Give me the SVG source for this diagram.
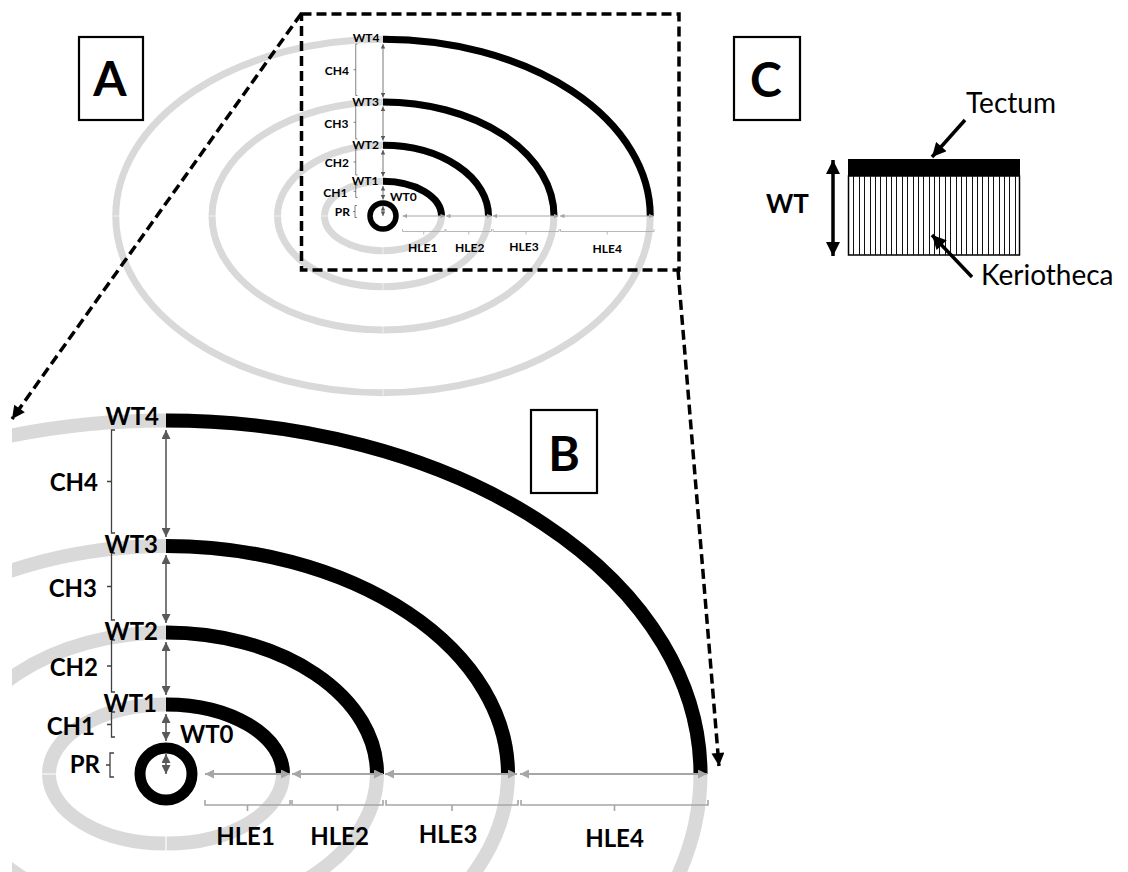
<svg xmlns="http://www.w3.org/2000/svg" width="1128" height="872" viewBox="0 0 1128 872">
  <style>
    .bg { fill: #ffffff; }
    .wall-grey { fill: none; stroke: #d9d9d9; stroke-width: 14; }
    .seam { fill: none; stroke: #ffffff; stroke-width: 1.2; }
    .wall { fill: none; stroke: #000000; stroke-width: 14; stroke-linecap: butt; }
    .pore { fill: none; stroke: #000000; stroke-width: 11; }
    .vd { fill: none; stroke: #595959; stroke-width: 1.6; }
    .br { fill: none; stroke: #404040; stroke-width: 1.3; }
    .hl { fill: none; stroke: #a6a6a6; stroke-width: 2; }
    .hb { fill: none; stroke: #a6a6a6; stroke-width: 1.6; }
    .lbl { font-family: Lato, "Liberation Sans", sans-serif; font-weight: bold; font-size: 24px; fill: #000000; }
    .panel-box { fill: #ffffff; stroke: #000000; stroke-width: 2.2; }
    .panel-letter { font-family: Lato, "Liberation Sans", sans-serif; font-weight: bold; font-size: 48px; fill: #000000; text-anchor: middle; }
    .dash { fill: none; stroke: #000000; stroke-width: 3.5; stroke-dasharray: 10 5; }
    .solid-arrow { fill: none; stroke: #000000; stroke-width: 3.5; }
    .c-text { font-family: Lato, "Liberation Sans", sans-serif; font-size: 28px; fill: #000000; }
    .kerio-lines { fill: none; stroke: #111111; stroke-width: 1; shape-rendering: crispEdges; }
  </style>
  <defs>
    <marker id="head-dark" viewBox="0 0 10 10" refX="10" refY="5" markerWidth="10" markerHeight="9" markerUnits="userSpaceOnUse" orient="auto-start-reverse">
      <path d="M0,0 L10,5 L0,10 z" fill="#595959"/>
    </marker>
    <marker id="head-light" viewBox="0 0 10 10" refX="10" refY="5" markerWidth="12" markerHeight="9" markerUnits="userSpaceOnUse" orient="auto-start-reverse">
      <path d="M0,0 L10,5 L0,10 z" fill="#a6a6a6"/>
    </marker>
    <marker id="head-black" viewBox="0 0 10 10" refX="10" refY="5" markerWidth="15" markerHeight="14" markerUnits="userSpaceOnUse" orient="auto-start-reverse">
      <path d="M0,0 L10,5 L0,10 z" fill="#000000"/>
    </marker>
    <marker id="head-dash" viewBox="0 0 10 10" refX="10" refY="5" markerWidth="14" markerHeight="13" markerUnits="userSpaceOnUse" orient="auto">
      <path d="M0,0 L10,5 L0,10 z" fill="#000000"/>
    </marker>
    <clipPath id="clip-b">
      <rect x="12" y="0" width="1116" height="872"/>
    </clipPath>
  </defs>

  <rect class="bg" x="0" y="0" width="1128" height="872"/>

  <!-- Panel A: reduced overview of the wall layers around the pore -->
  <g id="panel-a">
    <g transform="translate(383,216) scale(0.5)">
      <ellipse class="wall-grey" cx="0" cy="0" rx="117" ry="69.5"/>
      <ellipse class="wall-grey" cx="0" cy="0" rx="211" ry="141.5"/>
      <ellipse class="wall-grey" cx="0" cy="0" rx="342" ry="228"/>
      <ellipse class="wall-grey" cx="0" cy="0" rx="534.5" ry="353.5"/>
      <path class="seam" d="M0,62 V77 M-124,0 H-110 M0,134 V149 M-218,0 H-204 M0,220 V235 M-349,0 H-335 M0,346 V361 M-541.5,0 H-527.5"/>
      <path class="wall" d="M0,-69.5 A117,69.5 0 0 1 117,0"/>
      <path class="wall" d="M0,-141.5 A211,141.5 0 0 1 211,0"/>
      <path class="wall" d="M0,-228 A342,228 0 0 1 342,0"/>
      <path class="wall" d="M0,-353.5 A534.5,353.5 0 0 1 534.5,0"/>
      <circle class="pore" cx="0" cy="0" r="26"/>
      <line class="vd" x1="0" y1="-344" x2="0" y2="-237" marker-start="url(#head-dark)" marker-end="url(#head-dark)"/>
      <line class="vd" x1="0" y1="-219" x2="0" y2="-151" marker-start="url(#head-dark)" marker-end="url(#head-dark)"/>
      <line class="vd" x1="0" y1="-132" x2="0" y2="-79" marker-start="url(#head-dark)" marker-end="url(#head-dark)"/>
      <line class="vd" x1="0" y1="-60" x2="0" y2="-33" marker-start="url(#head-dark)" marker-end="url(#head-dark)"/>
      <line class="vd" x1="0" y1="-20" x2="0" y2="0" marker-start="url(#head-dark)" marker-end="url(#head-dark)"/>
      <path class="br" d="M-51,-344 H-54.5 V-241 H-51 M-54.5,-292.5 H-59"/>
      <path class="br" d="M-51,-221 H-54.5 V-154 H-51 M-54.5,-187.5 H-59"/>
      <path class="br" d="M-51,-134 H-54.5 V-82 H-51 M-54.5,-108 H-59"/>
      <path class="br" d="M-51,-62 H-54.5 V-37 H-51 M-54.5,-49.5 H-59"/>
      <path class="br" d="M-52,-21 H-56 V3 H-52 M-56,-9 H-60"/>
      <line class="hl" x1="39" y1="0" x2="124" y2="0" marker-start="url(#head-light)" marker-end="url(#head-light)"/>
      <line class="hl" x1="126" y1="0" x2="217" y2="0" marker-start="url(#head-light)" marker-end="url(#head-light)"/>
      <line class="hl" x1="219" y1="0" x2="351" y2="0" marker-start="url(#head-light)" marker-end="url(#head-light)"/>
      <line class="hl" x1="354" y1="0" x2="541" y2="0" marker-start="url(#head-light)" marker-end="url(#head-light)"/>
      <path class="hb" d="M39,26 V31 H124 V26 M81.5,31 V37"/>
      <path class="hb" d="M126,26 V31 H217 V26 M171.5,31 V37"/>
      <path class="hb" d="M220,26 V31 H352 V26 M286,31 V37"/>
      <path class="hb" d="M355,26 V31 H542 V26 M448.5,31 V37"/>
      <text class="lbl" x="-7" y="-349" text-anchor="end">WT4</text>
      <text class="lbl" x="-8" y="-221" text-anchor="end">WT3</text>
      <text class="lbl" x="-8" y="-134" text-anchor="end">WT2</text>
      <text class="lbl" x="-9" y="-62" text-anchor="end">WT1</text>
      <text class="lbl" x="14" y="-31">WT0</text>
      <text class="lbl" x="-68" y="-283" text-anchor="end">CH4</text>
      <text class="lbl" x="-69" y="-177" text-anchor="end">CH3</text>
      <text class="lbl" x="-68" y="-98" text-anchor="end">CH2</text>
      <text class="lbl" x="-71" y="-39" text-anchor="end">CH1</text>
      <text class="lbl" x="-66" y="-1" text-anchor="end">PR</text>
      <text class="lbl" x="79.5" y="71" text-anchor="middle">HLE1</text>
      <text class="lbl" x="173.5" y="71" text-anchor="middle">HLE2</text>
      <text class="lbl" x="282" y="69" text-anchor="middle">HLE3</text>
      <text class="lbl" x="448.5" y="73" text-anchor="middle">HLE4</text>
    </g>
    <!-- inset frame around the enlarged quadrant -->
    <rect class="dash" x="301.5" y="14" width="377.5" height="256"/>
    <rect class="panel-box" x="79" y="37" width="64" height="83"/>
    <text class="panel-letter" x="110" y="96">A</text>
  </g>

  <!-- Panel B: enlarged quadrant with measurements -->
  <g id="panel-b">
    <g clip-path="url(#clip-b)">
      <g transform="translate(166,774)">
        <ellipse class="wall-grey" cx="0" cy="0" rx="117" ry="69.5"/>
        <ellipse class="wall-grey" cx="0" cy="0" rx="211" ry="141.5"/>
        <ellipse class="wall-grey" cx="0" cy="0" rx="342" ry="228"/>
        <ellipse class="wall-grey" cx="0" cy="0" rx="534.5" ry="353.5"/>
        <path class="seam" d="M0,62 V77 M-124,0 H-110 M0,134 V149 M-218,0 H-204 M0,220 V235 M-349,0 H-335 M0,346 V361 M-541.5,0 H-527.5"/>
        <path class="wall" d="M0,-69.5 A117,69.5 0 0 1 117,0"/>
        <path class="wall" d="M0,-141.5 A211,141.5 0 0 1 211,0"/>
        <path class="wall" d="M0,-228 A342,228 0 0 1 342,0"/>
        <path class="wall" d="M0,-353.5 A534.5,353.5 0 0 1 534.5,0"/>
        <circle class="pore" cx="0" cy="0" r="26"/>
        <line class="vd" x1="0" y1="-344" x2="0" y2="-237" marker-start="url(#head-dark)" marker-end="url(#head-dark)"/>
        <line class="vd" x1="0" y1="-219" x2="0" y2="-151" marker-start="url(#head-dark)" marker-end="url(#head-dark)"/>
        <line class="vd" x1="0" y1="-132" x2="0" y2="-79" marker-start="url(#head-dark)" marker-end="url(#head-dark)"/>
        <line class="vd" x1="0" y1="-60" x2="0" y2="-33" marker-start="url(#head-dark)" marker-end="url(#head-dark)"/>
        <line class="vd" x1="0" y1="-20" x2="0" y2="0" marker-start="url(#head-dark)" marker-end="url(#head-dark)"/>
        <path class="br" d="M-51,-344 H-54.5 V-241 H-51 M-54.5,-292.5 H-59"/>
        <path class="br" d="M-51,-221 H-54.5 V-154 H-51 M-54.5,-187.5 H-59"/>
        <path class="br" d="M-51,-134 H-54.5 V-82 H-51 M-54.5,-108 H-59"/>
        <path class="br" d="M-51,-62 H-54.5 V-37 H-51 M-54.5,-49.5 H-59"/>
        <path class="br" d="M-52,-21 H-56 V3 H-52 M-56,-9 H-60"/>
        <line class="hl" x1="39" y1="0" x2="124" y2="0" marker-start="url(#head-light)" marker-end="url(#head-light)"/>
        <line class="hl" x1="126" y1="0" x2="217" y2="0" marker-start="url(#head-light)" marker-end="url(#head-light)"/>
        <line class="hl" x1="219" y1="0" x2="351" y2="0" marker-start="url(#head-light)" marker-end="url(#head-light)"/>
        <line class="hl" x1="354" y1="0" x2="541" y2="0" marker-start="url(#head-light)" marker-end="url(#head-light)"/>
        <path class="hb" d="M39,26 V31 H124 V26 M81.5,31 V37"/>
        <path class="hb" d="M126,26 V31 H217 V26 M171.5,31 V37"/>
        <path class="hb" d="M220,26 V31 H352 V26 M286,31 V37"/>
        <path class="hb" d="M355,26 V31 H542 V26 M448.5,31 V37"/>
        <text class="lbl" x="-7" y="-349" text-anchor="end">WT4</text>
        <text class="lbl" x="-8" y="-221" text-anchor="end">WT3</text>
        <text class="lbl" x="-8" y="-134" text-anchor="end">WT2</text>
        <text class="lbl" x="-9" y="-62" text-anchor="end">WT1</text>
        <text class="lbl" x="14" y="-31">WT0</text>
        <text class="lbl" x="-68" y="-283" text-anchor="end">CH4</text>
        <text class="lbl" x="-69" y="-177" text-anchor="end">CH3</text>
        <text class="lbl" x="-68" y="-98" text-anchor="end">CH2</text>
        <text class="lbl" x="-71" y="-39" text-anchor="end">CH1</text>
        <text class="lbl" x="-66" y="-1" text-anchor="end">PR</text>
        <text class="lbl" x="79.5" y="71" text-anchor="middle">HLE1</text>
        <text class="lbl" x="173.5" y="71" text-anchor="middle">HLE2</text>
        <text class="lbl" x="282" y="69" text-anchor="middle">HLE3</text>
        <text class="lbl" x="448.5" y="73" text-anchor="middle">HLE4</text>
      </g>
    </g>
    <rect class="panel-box" x="531" y="410" width="66" height="83"/>
    <text class="panel-letter" x="564" y="471">B</text>
  </g>

  <!-- Panel C: wall structure, tectum over keriotheca -->
  <g id="panel-c">
    <rect class="panel-box" x="734" y="37" width="66" height="83"/>
    <text class="panel-letter" x="766" y="97">C</text>
    <rect x="848" y="159" width="172" height="17" fill="#000000"/>
    <rect x="848.5" y="176" width="171" height="79" fill="#ffffff" stroke="#000000" stroke-width="1.5"/>
    <!-- keriotheca columns -->
    <path class="kerio-lines" d="M853.5,176V255 M859.5,176V255 M864.5,176V255 M870.5,176V255 M875.5,176V255 M880.5,176V255 M886.5,176V255 M891.5,176V255 M896.5,176V255 M902.5,176V255 M907.5,176V255 M913.5,176V255 M918.5,176V255 M923.5,176V255 M929.5,176V255 M934.5,176V255 M939.5,176V255 M945.5,176V255 M950.5,176V255 M956.5,176V255 M961.5,176V255 M966.5,176V255 M972.5,176V255 M977.5,176V255 M982.5,176V255 M988.5,176V255 M993.5,176V255 M999.5,176V255 M1004.5,176V255 M1009.5,176V255 M1015.5,176V255"/>
    <line class="solid-arrow" x1="833" y1="160" x2="833" y2="256" marker-start="url(#head-black)" marker-end="url(#head-black)"/>
    <text class="lbl" x="766" y="213" style="font-size:26px">WT</text>
    <text class="c-text" x="966" y="113">Tectum</text>
    <line class="solid-arrow" x1="965" y1="120" x2="932" y2="157" marker-end="url(#head-black)"/>
    <text class="c-text" x="981" y="285">Keriotheca</text>
    <line class="solid-arrow" x1="972" y1="277" x2="932" y2="235" marker-end="url(#head-black)"/>
  </g>

  <!-- dashed guides from the inset frame to the enlarged view -->
  <g id="connectors">
    <path class="dash" d="M301,14 L12,419" marker-end="url(#head-dash)"/>
    <path class="dash" d="M678,270 L719,766" marker-end="url(#head-dash)"/>
  </g>
</svg>
